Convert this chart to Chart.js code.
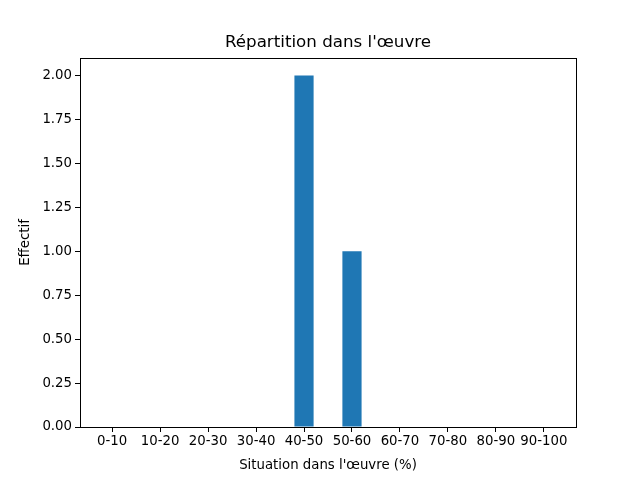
<!DOCTYPE html>
<html><head><meta charset="utf-8">
<script src="https://cdn.jsdelivr.net/npm/chart.js@4/dist/chart.umd.min.js"></script>
<style>html,body{margin:0;padding:0;background:#fff;}#c{display:block;}</style>
</head><body>
<canvas id="c" width="640" height="480"></canvas>
<script>
const categories = ["0-10","10-20","20-30","30-40","40-50","50-60","60-70","70-80","80-90","90-100"];
const counts = [0,0,0,0,2,1,0,0,0,0];
const yTicks = [0,0.25,0.5,0.75,1.0,1.25,1.5,1.75,2.0];
const titleText = "Répartition dans l'œuvre";
const xLabel = "Situation dans l'œuvre (%)";
const yLabel = "Effectif";

const FONT = "'DejaVu Sans', sans-serif";
Chart.defaults.font.family = FONT;
Chart.defaults.color = '#000';

const boxPlugin = {
  id: 'box',
  afterDraw(chart) {
    const a = chart.chartArea, ctx = chart.ctx;
    ctx.save();
    ctx.strokeStyle = '#000';
    ctx.lineWidth = 1;
    ctx.strokeRect(Math.round(a.left)+0.5, Math.round(a.top)+0.5, Math.round(a.right-a.left), Math.round(a.bottom-a.top));
    ctx.fillStyle = '#000';
    ctx.font = "16.7px " + FONT;
    ctx.textAlign = 'center';
    ctx.textBaseline = 'middle';
    ctx.fillText(titleText, (a.left + a.right) / 2, a.top - 15);
    ctx.restore();
  }
};

new Chart(document.getElementById('c'), {
  type: 'bar',
  data: {
    datasets: [{
      data: categories.map((c, i) => ({x: i, y: counts[i]})),
      backgroundColor: '#1f77b4',
      borderWidth: 0,
      inflateAmount: 0,
      barPercentage: 0.4,
      categoryPercentage: 1.0
    }]
  },
  options: {
    responsive: false,
    animation: false,
    layout: {padding: {left: 18, right: 64, top: 58, bottom: 0}},
    plugins: {
      legend: {display: false},
      tooltip: {enabled: false},
      title: {display: false}
    },
    scales: {
      x: {
        type: 'linear', min: -0.67, max: 9.67, offset: false,
        afterBuildTicks: s => { s.ticks = categories.map((c, i) => ({value: i})); },
        afterFit: s => { s.height = 53; },
        ticks: {autoSkip: false, maxRotation: 0, padding: 2, font: {size: 13.3}, color: '#000',
          callback: v => categories[v]},
        grid: {display: true, offset: false, drawOnChartArea: false, drawTicks: true, tickLength: 5, color: '#000'},
        border: {display: true, color: '#000'},
        title: {display: true, text: xLabel, color: '#000', font: {size: 13.3}, padding: {top: 2, bottom: 6}}
      },
      y: {
        type: 'linear', min: 0, max: 2.1,
        afterBuildTicks: s => { s.ticks = yTicks.map(v => ({value: v})); },
        afterFit: s => { s.width = 62; },
        ticks: {padding: 3, font: {size: 13.3}, color: '#000', callback: v => v.toFixed(2)},
        grid: {display: true, drawOnChartArea: false, drawTicks: true, tickLength: 5, color: '#000'},
        border: {display: true, color: '#000'},
        title: {display: true, text: yLabel, color: '#000', font: {size: 13.3}, padding: {top: 0, bottom: 4}}
      }
    }
  },
  plugins: [boxPlugin]
});
</script>
</body></html>
